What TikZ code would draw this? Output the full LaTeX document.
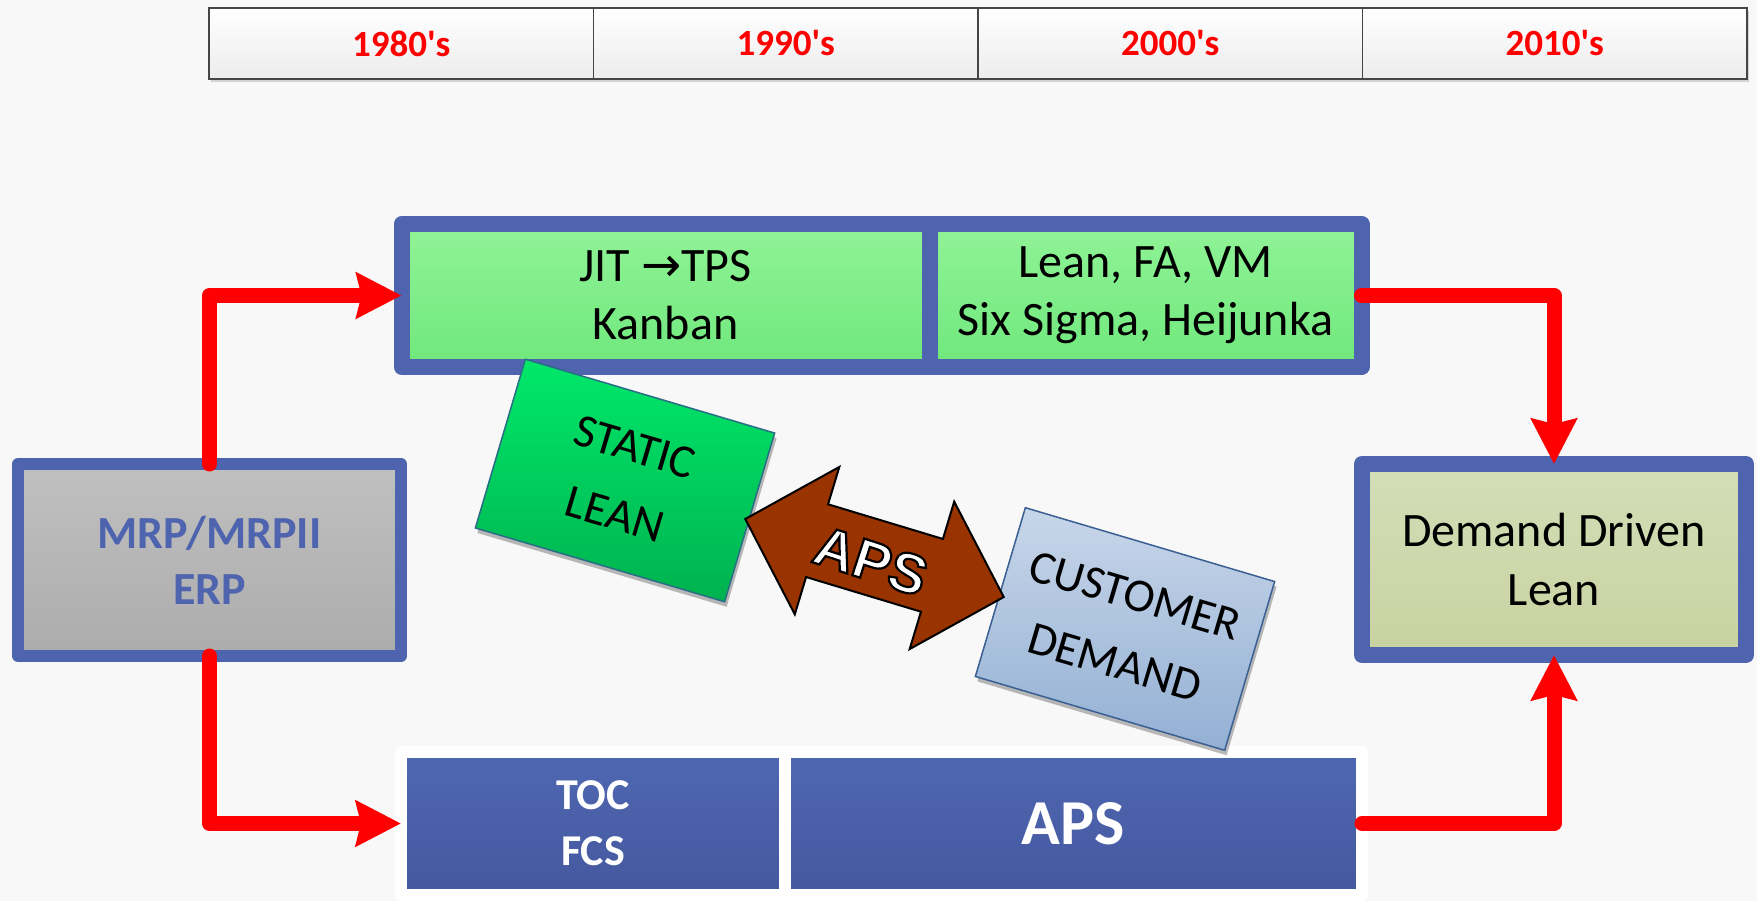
\documentclass[tikz,border=0pt]{standalone}
\usepackage{fontspec}
\setmainfont{Carlito}[Ligatures=TeXOff]
\newfontfamily\dejavu{DejaVu Sans}
\newfontfamily\arialf{Liberation Sans}
\usetikzlibrary{arrows.meta,shadows}
\definecolor{bgc}{HTML}{F8F8F8}
\definecolor{bordblue}{HTML}{4F64AF}
\definecolor{greentop}{HTML}{90F396}
\definecolor{greenbot}{HTML}{70E87D}
\definecolor{tlgray}{HTML}{454545}
\definecolor{tlbot}{HTML}{ECECEC}
\definecolor{mrptop}{HTML}{C0C0C0}
\definecolor{mrpbot}{HTML}{ACACAC}
\definecolor{ddltop}{HTML}{D4DEB8}
\definecolor{ddlbot}{HTML}{C8D2A0}
\definecolor{bluetop}{HTML}{4F67B2}
\definecolor{bluebot}{HTML}{44589E}
\definecolor{sltop}{HTML}{00E86A}
\definecolor{slbot}{HTML}{00B24F}
\definecolor{sledge}{HTML}{2A6E86}
\definecolor{cdtop}{HTML}{C8D6E9}
\definecolor{cdbot}{HTML}{93B0D4}
\definecolor{cdedge}{HTML}{3A5F93}
\definecolor{apsbrown}{HTML}{993300}
\newcommand{\outlinedtext}[1]{\special{pdf:code 0 0 0 RG 2.2 w 2 Tr}#1\special{pdf:code 0 Tr}}
\begin{document}
\begin{tikzpicture}[x=1pt,y=-1pt,
  yearcell/.style={draw=tlgray, line width=1.5pt, top color=white, bottom color=tlbot,
    minimum width=384.5pt, minimum height=71pt, inner sep=0pt, outer sep=0pt,
    font=\fontsize{37}{40}\selectfont\bfseries, text=red,
    drop shadow={shadow xshift=2pt, shadow yshift=-3pt, opacity=0.15, fill=black}},
  topcell/.style={draw=bordblue, line width=16pt, line join=round, top color=greentop,
    bottom color=greenbot, minimum height=143pt, inner sep=0pt, outer sep=0pt,
    align=center, font=\fontsize{48}{58}\selectfont},
  botcell/.style={draw=white, line width=12pt, line join=round, top color=bluetop,
    bottom color=bluebot, minimum height=143pt, inner sep=0pt, outer sep=0pt,
    align=center, text=white},
  mrpbox/.style={draw=bordblue, line width=12pt, line join=round, top color=mrptop,
    bottom color=mrpbot, minimum width=383pt, minimum height=192pt, inner sep=0pt,
    outer sep=0pt, align=center, text=bordblue, font=\fontsize{46}{56}\selectfont\bfseries},
  ddlbox/.style={draw=bordblue, line width=16pt, line join=round, top color=ddltop,
    bottom color=ddlbot, minimum width=384pt, minimum height=191pt, inner sep=0pt,
    outer sep=0pt, align=center, font=\fontsize{48}{59}\selectfont},
  redarrow/.style={draw=red, line width=15pt, line cap=round, line join=round,
    -{Stealth[length=45pt, width=45pt, inset=5pt, fill=red]}},
  tiltbox/.style={line width=1.5pt, minimum width=260pt, minimum height=176pt,
    inner sep=0pt, outer sep=0pt, rotate=-16.5, align=center,
    font=\fontsize{47}{70}\selectfont,
    drop shadow={shadow xshift=2pt, shadow yshift=-5pt, opacity=0.45, fill=black!60}},
  apsshape/.style={fill=apsbrown, draw=black, line width=2pt, line join=miter}
]
\useasboundingbox (0,0) rectangle (1757,901);
\fill[bgc] (0,0) rectangle (1757,901);

% timeline
\node[yearcell] (t1) at (401.25,43.5) {1980's};
\node[yearcell] (t2) at (785.75,43.5) {1990's};
\node[yearcell] (t3) at (1170.25,43.5) {2000's};
\node[yearcell] (t4) at (1554.75,43.5) {2010's};

% top group
\node[topcell, minimum width=528pt] (jit) at (665.5,295.5) {JIT {\dejavu →}TPS\\Kanban};
\node[topcell, minimum width=432pt] (lean) at (1145.5,295.5) {Lean, FA, VM\\Six Sigma, Heijunka};

% bottom group
\node[botcell, minimum width=384pt, font=\fontsize{44}{56}\selectfont\bfseries] (toc) at (593,823.5) {TOC\\FCS};
\node[botcell, minimum width=577pt, font=\fontsize{64}{70}\selectfont\bfseries] (aps) at (1073.5,823.5) {APS};

% side boxes
\node[mrpbox] (mrp) at (209.5,560) {MRP/MRPII\\ERP};
\node[ddlbox] (ddl) at (1554,559.5) {Demand Driven\\Lean};

% red connectors
\draw[redarrow] (mrp.north) |- (jit.west);
\draw[redarrow] (mrp.south) |- (toc.west);
\draw[redarrow] (lean.east) -| (ddl.north);
\draw[redarrow] (aps.east) -| (ddl.south);

% tilted boxes
\node[tiltbox, draw=sledge, top color=sltop, bottom color=slbot] (static) at (625,480.5) {STATIC\\LEAN};
\node[tiltbox, draw=cdedge, top color=cdtop, bottom color=cdbot] (cust) at (1125,629) {CUSTOMER\\DEMAND};

% APS double arrow
\begin{scope}[shift={(874.5,558)}, rotate=-16.8]
\draw[apsshape] (-135,0) -- (-60,-77) -- (-60,-38) -- (60,-38) -- (60,-77) -- (135,0)
  -- (60,77) -- (60,38) -- (-60,38) -- (-60,77) -- cycle;
\end{scope}
\node[rotate=-18, inner sep=0pt, font=\arialf\bfseries\fontsize{56}{60}\selectfont, text=white] (apslbl) at (871,561) {\outlinedtext{APS}};
\end{tikzpicture}
\end{document}
